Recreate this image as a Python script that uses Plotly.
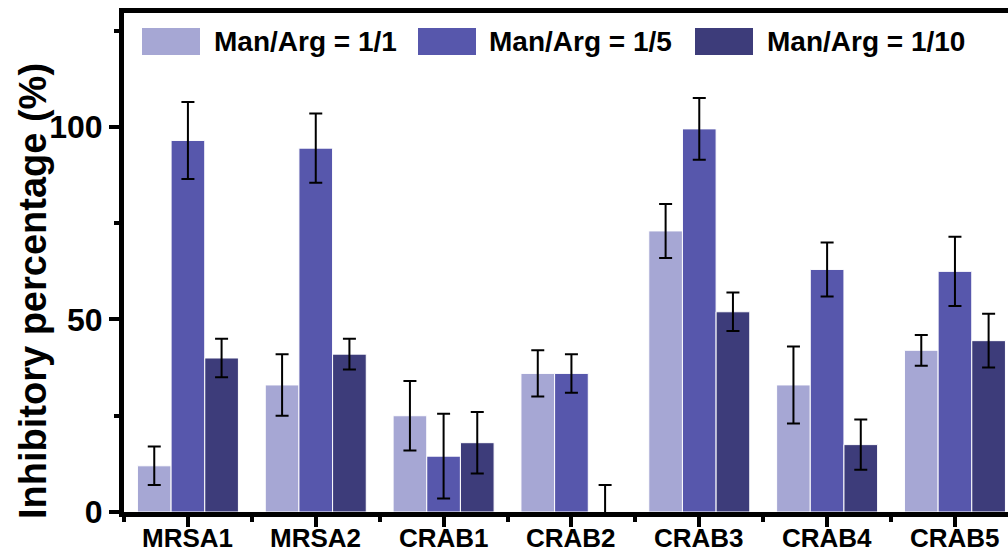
import plotly.graph_objects as go

# Strains tested
categories = ["MRSA1", "MRSA2", "CRAB1", "CRAB2", "CRAB3", "CRAB4", "CRAB5"]

# Inhibitory percentage (%) and standard deviation for each Man/Arg ratio
ratio_1_1 = [12, 33, 25, 36, 73, 33, 42]
ratio_1_1_err = [5, 8, 9, 6, 7, 10, 4]
ratio_1_5 = [96.5, 94.5, 14.5, 36, 99.5, 63, 62.5]
ratio_1_5_err = [10, 9, 11, 5, 8, 7, 9]
ratio_1_10 = [40, 41, 18, 0, 52, 17.5, 44.5]
ratio_1_10_err = [5, 4, 8, 7, 5, 6.5, 7]

series_names = ["Man/Arg = 1/1", "Man/Arg = 1/5", "Man/Arg = 1/10"]
colors = ["#A6A7D4", "#5757AC", "#3D3C7A"]

W, H = 1008, 554
L, R, T, B = 124, 0, 13, 42
plot_w = W - L - R
plot_h = H - T - B

x_pos = list(range(len(categories)))

fig = go.Figure()
for name, vals, errs, col in zip(
    series_names,
    [ratio_1_1, ratio_1_5, ratio_1_10],
    [ratio_1_1_err, ratio_1_5_err, ratio_1_10_err],
    colors,
):
    fig.add_trace(go.Bar(
        x=x_pos, y=vals, name=name, showlegend=False,
        marker=dict(color=col, line=dict(color="white", width=1)),
        error_y=dict(type="data", array=errs, visible=True,
                     color="black", thickness=2, width=6.5),
    ))

font_main = dict(family="Liberation Sans, Arial, sans-serif", color="black", weight="bold")

fig.update_layout(
    width=W, height=H,
    margin=dict(l=L, r=R, t=T, b=B, pad=0, autoexpand=False),
    plot_bgcolor="white", paper_bgcolor="white",
    barmode="group", bargap=0.21, bargroupgap=0,
    font=font_main,
    showlegend=False,
)

fig.update_xaxes(
    range=[-0.5, 6.415],
    tickvals=x_pos, showticklabels=False,
    showline=True, linecolor="black", linewidth=5, mirror=True,
    ticks="outside", ticklen=10, tickwidth=4, tickcolor="black",
    minor=dict(tick0=0.5, dtick=1, ticks="outside", ticklen=5, tickwidth=4, tickcolor="black"),
    showgrid=False, zeroline=False, automargin=False,
)
fig.update_yaxes(
    range=[0, 129.6],
    tickvals=[0, 50, 100],
    tickfont=dict(size=32, **font_main),
    showline=True, linecolor="black", linewidth=5, mirror=False,
    ticks="outside", ticklen=10, tickwidth=4, tickcolor="black",
    minor=dict(tickvals=[25, 75, 125], ticks="outside", ticklen=5, tickwidth=4, tickcolor="black"),
    showgrid=False, zeroline=False, automargin=False,
)

def px_x(px):
    return (px - L) / plot_w

def px_y(py):
    return (H - B - py) / plot_h

# Category labels just under the x axis, kept inside the page
for xv, lab in zip(x_pos, categories):
    fig.add_annotation(xref="x", yref="paper", x=xv, y=px_y(H),
                       text=lab, showarrow=False, xanchor="center", yanchor="bottom",
                       borderpad=0, font=dict(size=26, **font_main))

# Legend row along the top of the plot
swatch_left = [142, 418, 695]
swatch_w = 58
text_left = [212, 487, 765]
for sx, tx, name, col in zip(swatch_left, text_left, series_names, colors):
    fig.add_shape(type="rect", xref="paper", yref="paper",
                  x0=px_x(sx), x1=px_x(sx + swatch_w), y0=px_y(55), y1=px_y(28),
                  fillcolor=col, line=dict(width=0))
    fig.add_annotation(xref="paper", yref="paper", x=px_x(tx), y=px_y(42),
                       text=name, showarrow=False, xanchor="left", yanchor="middle",
                       font=dict(size=28, **font_main))

# Y-axis title
fig.add_annotation(xref="paper", yref="paper", x=px_x(33), y=px_y(291),
                   text="Inhibitory percentage (%)", textangle=-90, showarrow=False,
                   xanchor="center", yanchor="middle",
                   font=dict(size=38, **font_main))

fig.write_html("out.html")
